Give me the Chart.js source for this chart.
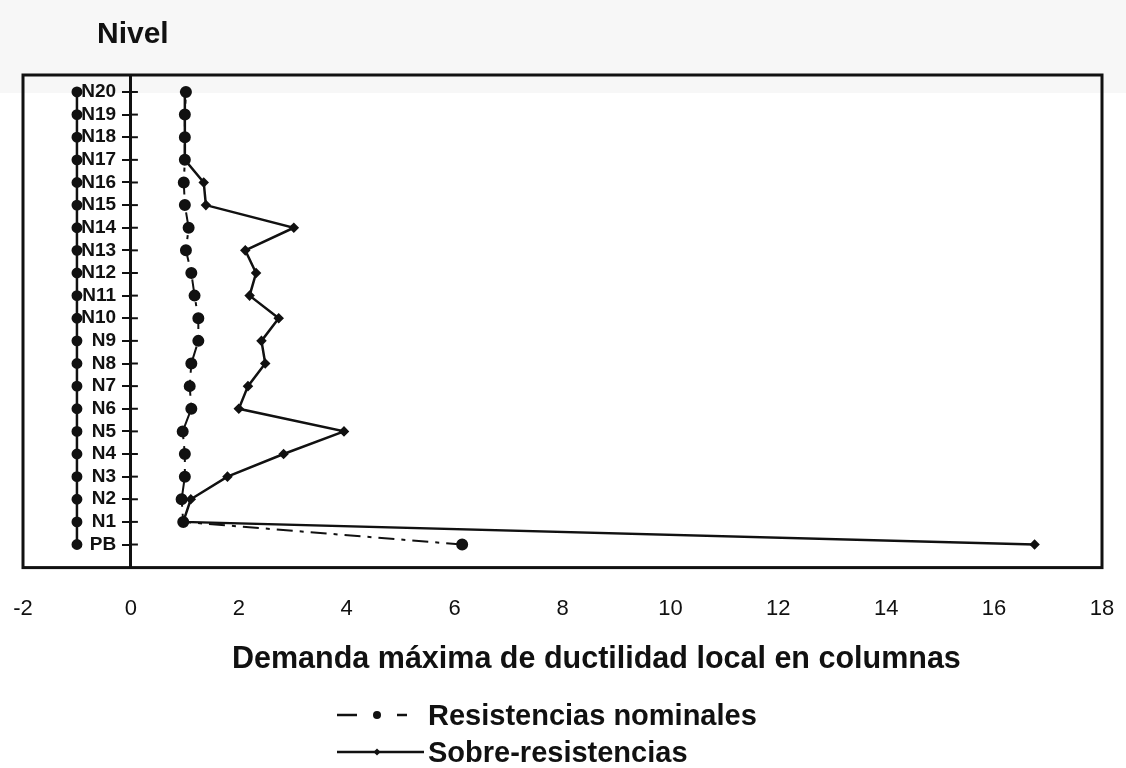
<!DOCTYPE html>
<html>
<head>
<meta charset="utf-8">
<script src="https://cdn.jsdelivr.net/npm/chart.js@4.4.1/dist/chart.umd.min.js"></script>
<style>
  html, body { margin: 0; padding: 0; background: #fff; }
  #wrap { position: relative; width: 1126px; height: 768px; overflow: hidden; }
  #c { position: absolute; left: 0; top: 0; }
  .txt { position: absolute; font-family: "Liberation Sans", Arial, sans-serif; font-weight: bold; color: #111; white-space: nowrap; line-height: 1; }
  #nivel { left: 97px; top: 18px; font-size: 30px; }
  #xtitle { left: 232px; top: 642px; font-size: 30.5px; }
  .leg { left: 336px; font-size: 29px; display: flex; align-items: center; height: 30px; }
  .leg svg { margin-right: 2px; }
  #leg1 { top: 700px; }
  #leg2 { top: 737px; }
</style>
</head>
<body>
<div id="wrap">
  <canvas id="c" width="1126" height="768"></canvas>
  <div id="nivel" class="txt">Nivel</div>
  <div id="xtitle" class="txt"></div>
  <div id="leg1" class="txt leg">
    <svg width="90" height="20"><line x1="1" y1="10" x2="21" y2="10" stroke="#111" stroke-width="2.5"/><circle cx="41" cy="10" r="4" fill="#111"/><line x1="61" y1="10" x2="71" y2="10" stroke="#111" stroke-width="2.5"/></svg>
    <span id="name1"></span>
  </div>
  <div id="leg2" class="txt leg">
    <svg width="90" height="20"><line x1="1" y1="10" x2="88" y2="10" stroke="#111" stroke-width="2.5"/><polygon points="41,6.5 44.5,10 41,13.5 37.5,10" fill="#111"/></svg>
    <span id="name2"></span>
  </div>
</div>
<script>
// ---- data (bottom level PB first, top level N20 last) ----
const levels = ['PB','N1','N2','N3','N4','N5','N6','N7','N8','N9','N10',
                'N11','N12','N13','N14','N15','N16','N17','N18','N19','N20'];
const nominales = [6.14, 0.97, 0.94, 1.00, 1.00, 0.96, 1.12, 1.09, 1.12, 1.25, 1.25,
                   1.18, 1.12, 1.02, 1.07, 1.00, 0.98, 1.00, 1.00, 1.00, 1.02];
const sobre = [16.75, 0.97, 1.11, 1.79, 2.83, 3.95, 2.00, 2.17, 2.49, 2.42, 2.74,
               2.20, 2.32, 2.12, 3.02, 1.39, 1.35, 1.00, 1.00, 1.00, 1.00];
const nivelMarker = [-1, -1, -1, -1, -1, -1, -1, -1, -1, -1, -1,
                     -1, -1, -1, -1, -1, -1, -1, -1, -1, -1];
const xTicks = [-2, 0, 2, 4, 6, 8, 10, 12, 14, 16, 18];
const seriesNames = ['Resistencias nominales', 'Sobre-resistencias', 'Nivel'];
const xTitle = 'Demanda máxima de ductilidad local en columnas';

document.getElementById('xtitle').textContent = xTitle;
document.getElementById('name1').textContent = seriesNames[0];
document.getElementById('name2').textContent = seriesNames[1];

const toPts = arr => arr.map((v, i) => ({ x: v, y: i }));
const zeroPad = s => { s.paddingLeft = 0; s.paddingRight = 0; s.paddingTop = 0; s.paddingBottom = 0; };

const bgPlugin = {
  id: 'bg',
  beforeDraw(chart) {
    const ctx = chart.ctx;
    ctx.save();
    ctx.fillStyle = '#ffffff';
    ctx.fillRect(0, 0, chart.width, chart.height);
    ctx.fillStyle = '#f7f7f7';
    ctx.fillRect(0, 0, chart.width, 93);
    ctx.restore();
  }
};
const framePlugin = {
  id: 'frame',
  afterDraw(chart) {
    const { ctx, chartArea: a, scales } = chart;
    ctx.save();
    ctx.strokeStyle = '#111';
    ctx.lineWidth = 3;
    ctx.strokeRect(a.left, a.top, a.right - a.left, a.bottom - a.top);
    // right-hand half of the cross ticks on the level axis
    const x0 = scales.x.getPixelForValue(0);
    ctx.lineWidth = 2;
    scales.y.ticks.forEach(t => {
      const yp = scales.y.getPixelForValue(t.value);
      ctx.beginPath();
      ctx.moveTo(x0, yp);
      ctx.lineTo(x0 + 7, yp);
      ctx.stroke();
    });
    ctx.restore();
  }
};

new Chart(document.getElementById('c'), {
  type: 'line',
  data: {
    datasets: [
      {
        label: seriesNames[0],
        data: toPts(nominales),
        borderColor: '#111', backgroundColor: '#111',
        borderWidth: 2, borderDash: [16, 7, 4, 7],
        pointStyle: 'circle', pointRadius: 5, pointHoverRadius: 5,
        tension: 0
      },
      {
        label: seriesNames[1],
        data: toPts(sobre),
        borderColor: '#111', backgroundColor: '#111',
        borderWidth: 2.5,
        pointStyle: 'rectRot', pointRadius: 3.5, pointHoverRadius: 3.5,
        tension: 0
      },
      {
        label: seriesNames[2],
        data: toPts(nivelMarker),
        borderColor: '#111', backgroundColor: '#111',
        borderWidth: 2.5,
        pointStyle: 'circle', pointRadius: 4.2, pointHoverRadius: 4.2,
        tension: 0
      }
    ]
  },
  options: {
    responsive: false,
    animation: false,
    layout: { padding: { left: 23, right: 24, top: 75, bottom: 118 } },
    plugins: {
      legend: { display: false },
      tooltip: { enabled: false },
      title: { display: false }
    },
    scales: {
      x: {
        type: 'linear',
        position: 'bottom',
        min: -2, max: 18,
        afterBuildTicks: s => { s.ticks = xTicks.map(v => ({ value: v })); },
        afterFit: zeroPad,
        grid: { display: false, drawTicks: false },
        border: { display: false },
        ticks: {
          padding: 28,
          color: '#111',
          font: { family: '"Liberation Sans", Arial, sans-serif', size: 22 }
        }
      },
      y: {
        type: 'linear',
        position: { x: 0 },
        min: -1.02, max: 20.75,
        afterBuildTicks: s => { s.ticks = levels.map((l, i) => ({ value: i })); },
        afterFit: zeroPad,
        grid: { drawOnChartArea: false, drawTicks: true, tickLength: 7, color: '#111', lineWidth: 2 },
        border: { display: true, color: '#111', width: 3 },
        ticks: {
          color: '#111',
          autoSkip: false,
          // trailing spaces keep the label clear of the cross ticks
          callback: v => levels[v] !== undefined ? levels[v] + ' \u2002' : '',
          font: { family: '"Liberation Sans", Arial, sans-serif', size: 19, weight: 'bold' }
        }
      }
    }
  },
  plugins: [bgPlugin, framePlugin]
});
</script>
</body>
</html>
